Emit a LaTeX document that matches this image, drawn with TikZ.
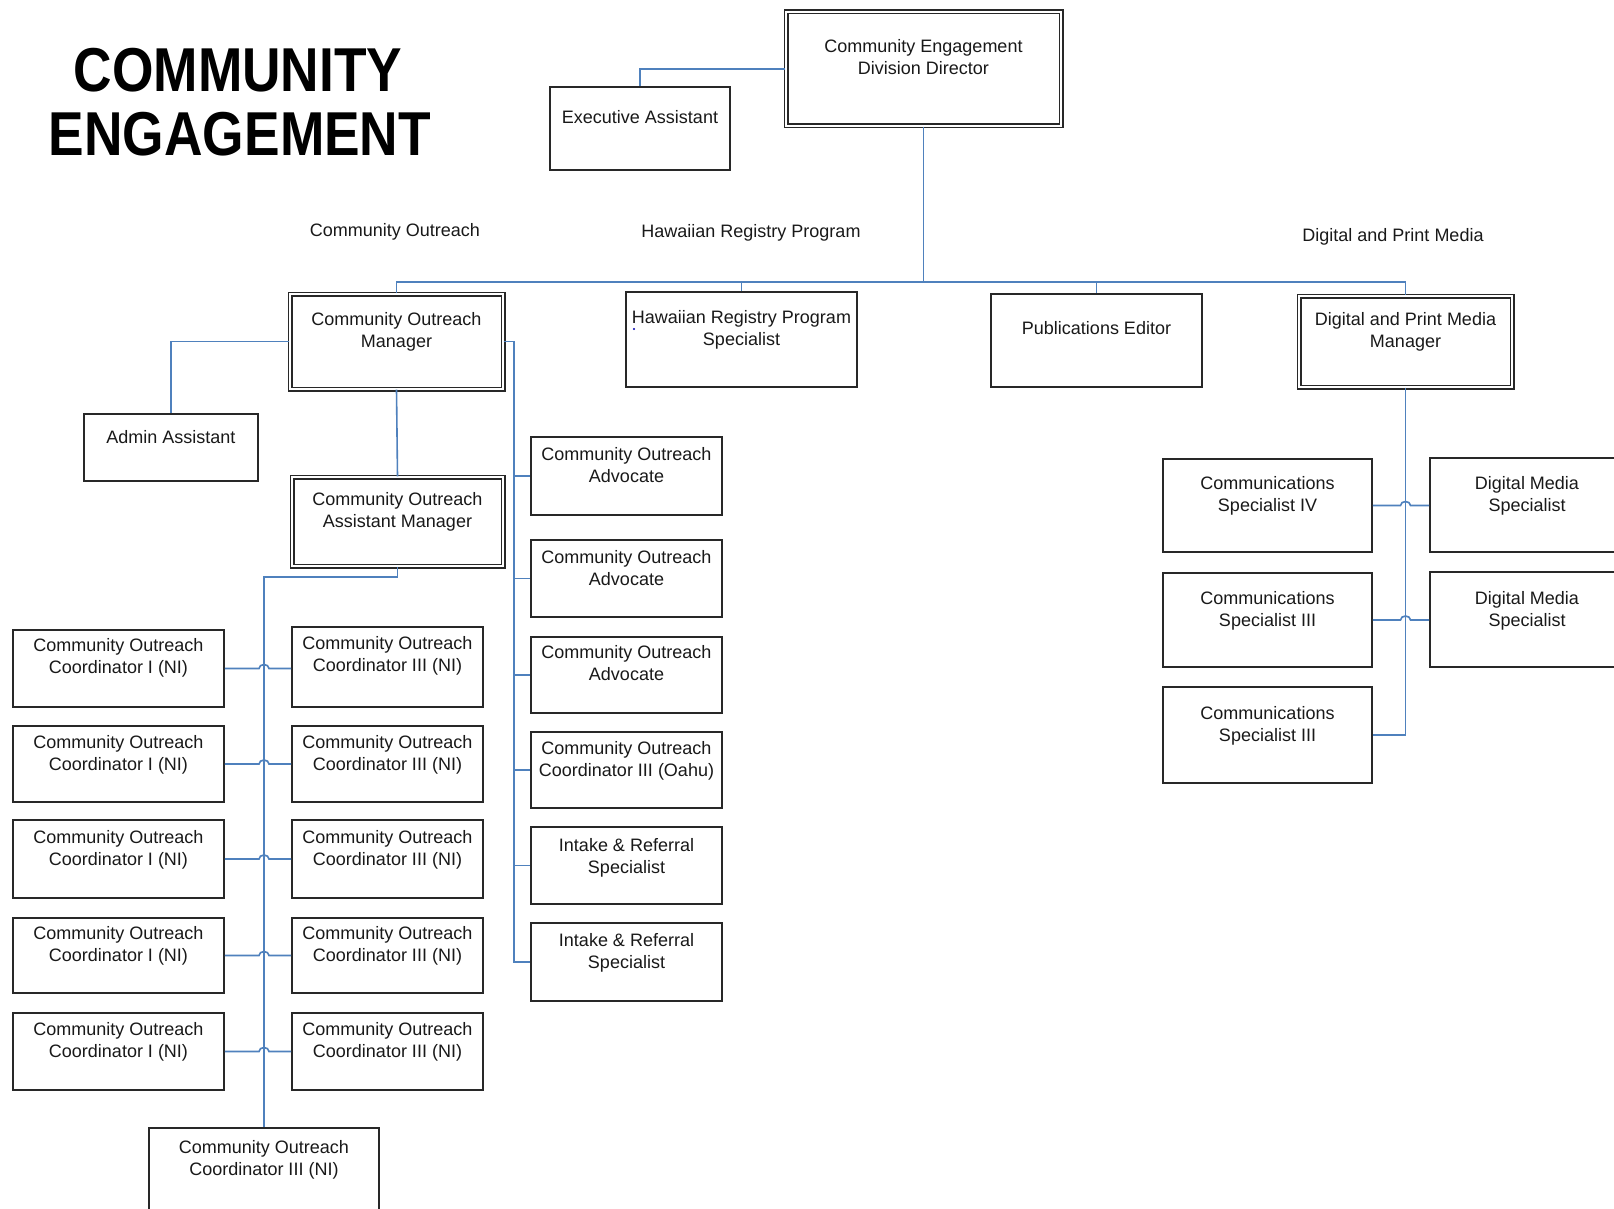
\documentclass[tikz,border=0pt]{standalone}
\usepackage{fontspec}
\setmainfont{Liberation Sans}
\usetikzlibrary{calc}
\definecolor{lineblue}{RGB}{79,129,189}
\definecolor{boxgray}{RGB}{40,40,40}
\definecolor{txtc}{RGB}{25,25,25}
\tikzset{
  conn/.style={draw=lineblue, line width=1.6pt},
  boxst/.style={draw=boxgray, line width=1.6pt, inner sep=0pt, rectangle},
  dblbox/.style={draw=boxgray, double=white, double distance=2.4pt, line width=1.3pt, inner sep=0pt, rectangle},
  txt/.style={font=\fontsize{18}{22}\selectfont, text=txtc, align=center, inner sep=0pt, anchor=north},
  ttl/.style={font=\fontsize{62}{70}\selectfont\bfseries, text=black, inner sep=0pt, anchor=base},
}
% #1 style, #2 name, #3 x1, #4 y1, #5 x2, #6 y2, #7 first line y, #8 text
\newcommand\orgbox[8]{%
  \node[#1, minimum width={(#5-#3)*1pt}, minimum height={(#6-#4)*1pt}] (#2) at ({(#3+#5)/2},{(#4+#6)/2}) {};
  \node[txt] (#2-t) at ({(#3+#5)/2},{#7-7}) {#8};
}
% line from #1 east to #2 west, hopping over the vertical through #3
\newcommand\hopline[3]{%
  \draw[conn] (#1.east) -- ($(#1.east -| #3)+(-5,0)$) arc[start angle=180,end angle=360,x radius=5,y radius=4] -- (#2.west |- #1.east);
}
\begin{document}
\begin{tikzpicture}[x=1pt,y=-1pt]
\useasboundingbox (0,0) rectangle (1614,1209);
\clip (0,0) rectangle (1614,1209);
\fill[white] (0,0) rectangle (1614,1209);

% title
\node[ttl] (t1) at (238,92) {\scalebox{0.86}[1]{COMMUNITY}};
\node[ttl] (t2) at (240,156) {\scalebox{0.86}[1]{ENGAGEMENT}};

% section labels
\node[txt] (lco) at (395,{230-7}) {Community Outreach};
\node[txt] (lhr) at (751,{231-7}) {Hawaiian Registry Program};
\node[txt] (ldp) at (1393,{235-7}) {Digital and Print Media};

% top level
\orgbox{dblbox}{dir}{786}{12}{1061}{126}{46}{Community Engagement\\Division Director}
\orgbox{boxst}{exa}{550}{87}{730}{170}{117}{Executive Assistant}
\orgbox{dblbox}{com}{290}{294}{503}{389}{319}{Community Outreach\\Manager}
\orgbox{boxst}{hrp}{626}{292}{857}{387}{317}{Hawaiian Registry Program\\Specialist}
\orgbox{boxst}{pub}{991}{294}{1202}{387}{328}{Publications Editor}
\orgbox{dblbox}{dpm}{1299}{296}{1512}{387}{319}{Digital and Print Media\\Manager}
\fill[blue!70!black] (634,329) circle[radius=1.2];

% community outreach branch
\orgbox{boxst}{adm}{84}{414}{258}{481}{437}{Admin Assistant}
\orgbox{dblbox}{cam}{292}{477}{503}{566}{499}{Community Outreach\\Assistant Manager}
\orgbox{boxst}{adv1}{531}{437}{722}{515}{454}{Community Outreach\\Advocate}
\orgbox{boxst}{adv2}{531}{540}{722}{617}{557}{Community Outreach\\Advocate}
\orgbox{boxst}{adv3}{531}{637}{722}{713}{652}{Community Outreach\\Advocate}
\orgbox{boxst}{oahu}{531}{732}{722}{808}{748}{Community Outreach\\Coordinator III (Oahu)}
\orgbox{boxst}{ir1}{531}{827}{722}{904}{845}{Intake \& Referral\\Specialist}
\orgbox{boxst}{ir2}{531}{923}{722}{1001}{940}{Intake \& Referral\\Specialist}

\orgbox{boxst}{l1}{13}{630}{224}{707}{645}{Community Outreach\\Coordinator I (NI)}
\orgbox{boxst}{l2}{13}{726}{224}{802}{742}{Community Outreach\\Coordinator I (NI)}
\orgbox{boxst}{l3}{13}{820}{224}{898}{837}{Community Outreach\\Coordinator I (NI)}
\orgbox{boxst}{l4}{13}{918}{224}{993}{933}{Community Outreach\\Coordinator I (NI)}
\orgbox{boxst}{l5}{13}{1013}{224}{1090}{1029}{Community Outreach\\Coordinator I (NI)}
\orgbox{boxst}{r1}{292}{627}{483}{707}{643}{Community Outreach\\Coordinator III (NI)}
\orgbox{boxst}{r2}{292}{726}{483}{802}{742}{Community Outreach\\Coordinator III (NI)}
\orgbox{boxst}{r3}{292}{820}{483}{898}{837}{Community Outreach\\Coordinator III (NI)}
\orgbox{boxst}{r4}{292}{918}{483}{993}{933}{Community Outreach\\Coordinator III (NI)}
\orgbox{boxst}{r5}{292}{1013}{483}{1090}{1029}{Community Outreach\\Coordinator III (NI)}
\orgbox{boxst}{bot}{149}{1128}{379}{1240}{1147}{Community Outreach\\Coordinator III (NI)}

% digital and print media branch
\orgbox{boxst}{cs4}{1163}{459}{1372}{552}{483}{Communications\\Specialist IV}
\orgbox{boxst}{cs3a}{1163}{573}{1372}{667}{598}{Communications\\Specialist III}
\orgbox{boxst}{cs3b}{1163}{687}{1372}{783}{713}{Communications\\Specialist III}
\orgbox{boxst}{dm1}{1430}{458}{1624}{552}{483}{Digital Media\\Specialist}
\orgbox{boxst}{dm2}{1430}{572}{1624}{667}{598}{Digital Media\\Specialist}

% connectors
\coordinate (busy) at (0,282);
\draw[conn] (dir.west) -| (exa.north);
\draw[conn] (dir.south) -- (dir.south |- busy);
\draw[conn] (com.north) -- (com.north |- busy) -- (dpm.north |- busy) -- (dpm.north);
\draw[conn] (hrp.north) -- (hrp.north |- busy);
\draw[conn] (pub.north) -- (pub.north |- busy);
\draw[conn] (com.west) -| (adm.north);
\draw[conn] (com.south) -- (cam.north);
\coordinate (advx) at (514,0);
\draw[conn] (com.east) -- (com.east -| advx) -- (advx |- ir2.west) -- (ir2.west);
\foreach \n in {adv1,adv2,adv3,oahu,ir1}{\draw[conn] (advx |- \n.west) -- (\n.west);}
\coordinate (cby) at (0,577);
\draw[conn] (cam.south) -- (cam.south |- cby) -- (bot.north |- cby) -- (bot.north);
\hopline{l1}{r1}{bot}
\hopline{l2}{r2}{bot}
\hopline{l3}{r3}{bot}
\hopline{l4}{r4}{bot}
\hopline{l5}{r5}{bot}
\draw[conn] (dpm.south) |- (cs3b.east);
\hopline{cs4}{dm1}{dpm}
\hopline{cs3a}{dm2}{dpm}
\end{tikzpicture}
\end{document}
